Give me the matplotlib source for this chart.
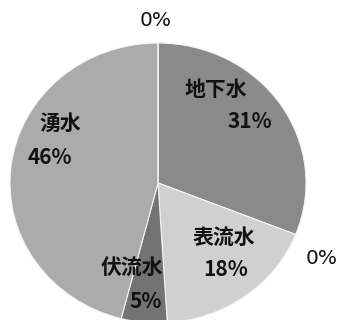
import matplotlib
matplotlib.use("Agg")
import matplotlib.pyplot as plt

categories = ["地下水", "", "表流水", "伏流水", "湧水", ""]
values = [31, 0, 18, 5, 46, 0]
pct_labels = ["31%", "0%", "18%", "5%", "46%", "0%"]
colors = ["#8a8a8a", "#999999", "#d0d0d0", "#737373", "#ababab", "#bbbbbb"]

plt.rcParams['font.family'] = ['Noto Sans CJK JP', 'DejaVu Sans']

W, H = 341, 320
fig = plt.figure(figsize=(W / 100, H / 100), dpi=100)
cx, cy, rx, ry = 158, 183, 148, 140
ax = fig.add_axes([(cx - rx) / W, (H - cy - ry) / H, 2 * rx / W, 2 * ry / H])
ax.pie(values, colors=colors, startangle=90, counterclock=False,
       wedgeprops=dict(edgecolor="#f4f4f4", linewidth=0.8))
ax.set_aspect('auto')
ax.set_xlim(-1, 1)
ax.set_ylim(-1, 1)
ax.axis('off')

def to_data(px, py):
    return (px - cx) / rx, (cy - py) / ry

name_pos = {0: (216, 89), 2: (224, 237), 3: (132, 268), 4: (60, 123)}
pct_pos = {0: (250, 121), 2: (226, 270), 3: (146, 301), 4: (50, 158)}
outer_pos = {1: (322, 258), 5: (156, 21)}

for i, (px, py) in name_pos.items():
    x, y = to_data(px, py)
    ax.text(x, y, categories[i], ha='center', va='center', fontsize=15,
            fontweight='bold', color='#111111', clip_on=False)
for i, (px, py) in pct_pos.items():
    x, y = to_data(px, py)
    ax.text(x, y, pct_labels[i], ha='center', va='center', fontsize=15,
            fontweight='bold', color='#111111', clip_on=False)
for i, (px, py) in outer_pos.items():
    x, y = to_data(px, py)
    ax.text(x, y, pct_labels[i], ha='center', va='center', fontsize=14.5,
            family='DejaVu Sans', color='#111111', clip_on=False)

fig.savefig("out.png", dpi=100, facecolor="white")
